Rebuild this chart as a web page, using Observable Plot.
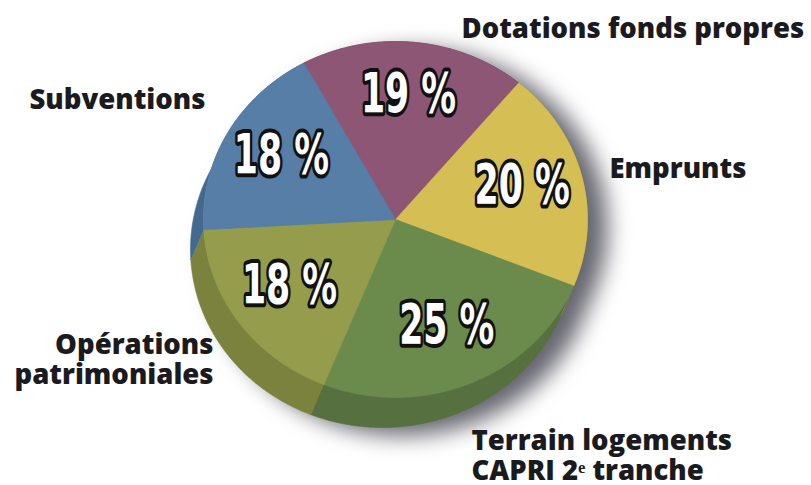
<!DOCTYPE html>
<html><head><meta charset="utf-8">
<script src="https://cdn.jsdelivr.net/npm/d3@7"></script>
<script src="https://cdn.jsdelivr.net/npm/@observablehq/plot@0.6"></script>
<style>
html,body{margin:0;padding:0;background:#fff}
#chart{width:811px;height:485px;overflow:hidden}
</style>
</head><body><div id="chart"></div>
<script>
// ---- data ----
const categories = ["Dotations fonds propres", "Emprunts", "Terrain logements\nCAPRI 2ᵉ tranche", "Opérations\npatrimoniales", "Subventions"];
const values = [19, 20, 25, 18, 18];
const pctLabels = ["19 %", "20 %", "25 %", "18 %", "18 %"];
const topColors = ["#8d5674", "#d5bf54", "#6a8b4c", "#959d4c", "#577ea6"];
const sideColors = ["#6e4058", "#a8953e", "#56703f", "#7b823d", "#43698f"];

// ---- layout (pixels) ----
const W = 811, H = 485;
const CX = 395, CY = 219, RX = 192, RY = 178;   // top face ellipse
const OFF = [-13, 30];                          // extrusion offset of the wall
const START = -28.5 * Math.PI / 180;            // angle where first slice starts
// label anchors: x, y (baseline of last line), text-anchor
const labelPos = [
  [461, 37, "start"],
  [609, 177, "start"],
  [471, 479, "start"],
  [213, 383, "end"],
  [29, 108, "start"]
];

const ux = px => (px - CX) / RX;
const uy = py => (CY - py) / RY;
const offU = [OFF[0] / RX, -OFF[1] / RY];

const arcs = d3.pie().value(d => d).sort(null).startAngle(START).endAngle(START + 2 * Math.PI)(values);

function arcPts(a0, a1, dx = 0, dy = 0) {
  const n = Math.max(2, Math.ceil(Math.abs(a1 - a0) / 0.01));
  const pts = [];
  for (let i = 0; i <= n; i++) {
    const a = a0 + (a1 - a0) * i / n;
    pts.push([Math.sin(a) + dx, Math.cos(a) + dy]);
  }
  return pts;
}

const topPts = [], sidePts = [];
arcs.forEach((a, i) => {
  const t = [[0, 0], ...arcPts(a.startAngle, a.endAngle), [0, 0]];
  t.forEach(([x, y]) => topPts.push({x, y, id: i, c: topColors[i]}));
  const s = [...arcPts(a.startAngle, a.endAngle), ...arcPts(a.endAngle, a.startAngle, offU[0], offU[1])];
  s.forEach(([x, y]) => sidePts.push({x, y, id: i, c: sideColors[i]}));
});

const allPts = [...arcPts(0, 2 * Math.PI), ...arcPts(0, 2 * Math.PI, offU[0], offU[1])];
const hull = d3.polygonHull(allPts);
const shadowPts = [...hull, hull[0]].map(([x, y]) => ({x: x + 20 / RX, y: y - 8 / RY}));

const pctData = arcs.map((a, i) => {
  const m = (a.startAngle + a.endAngle) / 2;
  return {x: 0.68 * Math.sin(m), y: 0.68 * Math.cos(m) + 0.03, t: pctLabels[i]};
});
const catData = categories.map((c, i) => ({x: ux(labelPos[i][0]), y: uy(labelPos[i][1]), t: c, anchor: labelPos[i][2]}));

const plot = Plot.plot({
  width: W, height: H,
  margin: 0,
  x: {domain: [ux(0), ux(W)], axis: null},
  y: {domain: [uy(H), uy(0)], axis: null},
  color: {type: "identity"},
  marks: [
    Plot.line(shadowPts, {x: "x", y: "y", fill: "#66666f", stroke: "none"}),
    Plot.line(sidePts, {x: "x", y: "y", z: "id", fill: "c", stroke: "c", strokeWidth: 0.6}),
    Plot.line(topPts, {x: "x", y: "y", z: "id", fill: "c", stroke: "c", strokeWidth: 0.6}),
    Plot.text(pctData, {x: "x", y: "y", text: "t", fill: "white", stroke: "#111", strokeWidth: 8,
      fontSize: 56, fontWeight: "bold", fontFamily: "DejaVu Sans, sans-serif"}),
    ...["start", "end"].map(an => Plot.text(catData.filter(d => d.anchor === an), {
      x: "x", y: "y", text: "t", textAnchor: an, lineAnchor: "bottom", lineHeight: 1.08,
      fill: "#1b1b1f", fontSize: 27.5, fontWeight: 800, fontFamily: "Open Sans"}))
  ]
});

const layers = plot.querySelectorAll(":scope > g");
// layer 0: shadow, layer 3: percentage labels
layers[0].style.filter = "blur(11px)";
layers[3].querySelectorAll("text").forEach(t => {
  const tr = t.getAttribute("transform") || "";
  t.setAttribute("transform", tr + " scale(0.62,1)");
});
document.getElementById("chart").appendChild(plot);
</script>
</body></html>
